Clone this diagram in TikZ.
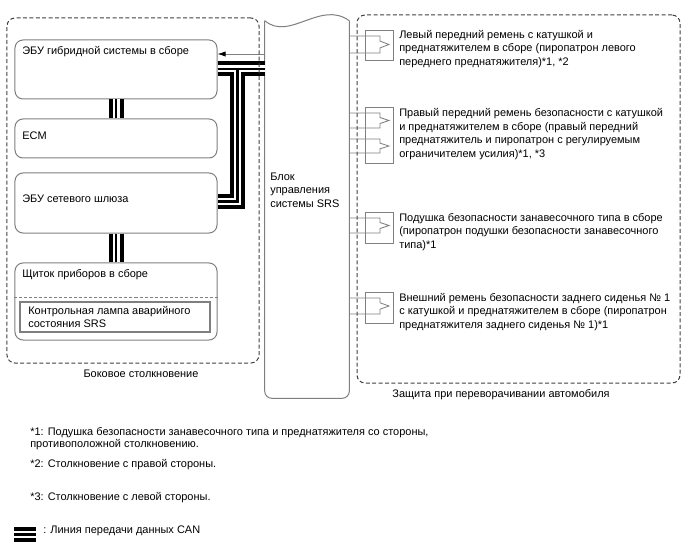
\documentclass[tikz,border=0pt]{standalone}
\usepackage{fontspec}
\setmainfont{Liberation Sans}
\usetikzlibrary{arrows.meta}
\definecolor{boxgray}{HTML}{7F7F7F}
\definecolor{dashgray}{HTML}{404040}
\tikzset{
  ecu/.style={draw=boxgray, line width=0.25mm, rounded corners=2mm, minimum width=50.5mm, inner sep=0},
  squib/.style={draw=boxgray, line width=0.2mm, minimum width=7mm, inner sep=0},
  group/.style={draw=dashgray, line width=0.25mm, dash pattern=on 1mm off 0.6mm, rounded corners=2mm, inner sep=0},
  wire/.style={draw=boxgray, line width=0.2mm},
  txt/.style={anchor=west, inner sep=0, align=left},
  canbus/.style={draw=black, line width=3.75mm, postaction={draw=white, line width=1.75mm}, postaction={draw=black, line width=0.6mm}},
}

\begin{document}
\begin{tikzpicture}[x=0.25mm, y=-0.25mm, font={\fontsize{7.8}{9.75}\selectfont}]
\useasboundingbox (0,0) rectangle (688,560);
% side collision ECUs
\node[ecu, minimum height=14.75mm] (hv) at (116,69.5) {};
\node[ecu, minimum height=9.75mm] (ecm) at (116,138.5) {};
\node[ecu, minimum height=15mm] (gw) at (116,203) {};
\node[ecu, minimum height=19.25mm] (meter) at (116,301.5) {};
\node[draw=boxgray, line width=0.3mm, minimum width=47.5mm, minimum height=7.5mm, inner sep=0] (lamp) at (115,317) {};
\draw[boxgray, line width=0.2mm, dash pattern=on 0.75mm off 0.5mm] (meter.west |- 0,297) -- (meter.east |- 0,297);
\node[txt] (hvlbl) at (22,52) {ЭБУ гибридной системы в сборе};
\node[txt] (ecmlbl) at (22,136) {ECM};
\node[txt] (gwlbl) at (22,199) {ЭБУ сетевого шлюза};
\node[txt] (meterlbl) at (22,275) {Щиток приборов в сборе};
\node[txt] (lamplbl) at (28,317) {Контрольная лампа аварийного\\состояния SRS};
% SRS block
\node[minimum width=21mm, minimum height=94.25mm, inner sep=0] (srs) at (307,209.5) {};
\draw[wire, line width=0.25mm] (srs.north west) .. controls +(25,21) and +(-29,-21) .. (srs.north east);
\draw[wire, line width=0.25mm, rounded corners=1.75mm] (srs.north east) -- (srs.south east) -- (srs.south west) -- (srs.north west);
\node[txt] (srslbl) at (270,190) {Блок\\управления\\системы SRS};
% CAN lines
\coordinate (tee) at (237.5,69);
\draw[canbus] (hv.east |- tee) -- (srs.west |- tee) (gw.east |- 0,201.5) -| (tee);
\draw[canbus] (hv.south) -- (ecm.north);
\draw[canbus] (gw.south) -- (meter.north);
\draw[wire, -{Latex[length=2mm, width=1.3mm, color=black]}] (srs.west |- 0,54) -- (hv.east |- 0,54);
% squibs
\node[squib, minimum height=7.5mm] (sqa) at (379,45) {};
\node[squib, minimum height=14mm] (sqb) at (379,135) {};
\node[squib, minimum height=7.75mm] (sqc) at (379,227.5) {};
\node[squib, minimum height=7.75mm] (sqd) at (379,307.5) {};
\foreach \w/\d in {36/17,113/15,139/14,218/15,298/16}
  \draw[wire] (srs.east |- 0,\w) -| (380,{\w+0.3*\d}) -- (389,{\w+0.5*\d}) -- (380,{\w+0.7*\d}) |- (srs.east |- 0,{\w+\d});
\node[txt] (sqalbl) at (399,49) {Левый передний ремень с катушкой и\\преднатяжителем в сборе (пиропатрон левого\\переднего преднатяжителя)*1, *2};
\node[txt] (sqblbl) at (399,134) {Правый передний ремень безопасности с катушкой\\и преднатяжителем в сборе (правый передний\\преднатяжитель и пиропатрон с регулируемым\\ограничителем усилия)*1, *3};
\node[txt] (sqclbl) at (399,232) {Подушка безопасности занавесочного типа в сборе\\(пиропатрон подушки безопасности занавесочного\\типа)*1};
\node[txt] (sqdlbl) at (399,312) {Внешний ремень безопасности заднего сиденья № 1\\с катушкой и преднатяжителем в сборе (пиропатрон\\преднатяжителя заднего сиденья № 1)*1};
% groups
\node[group, minimum width=63mm, minimum height=86.25mm] (side) at (133,190.5) {};
\node[group, minimum width=80.75mm, minimum height=92mm] (roll) at (518.5,199) {};
\node[inner sep=0] (sidelbl) at (141,374) {Боковое столкновение};
\node[inner sep=0] (rolllbl) at (501,395) {Защита при переворачивании автомобиля};
% notes
\node[txt] (fna) at (30,438.5) {*1: Подушка безопасности занавесочного типа и преднатяжителя со стороны,\\[-1.4pt]противоположной столкновению.};
\node[txt] (fnb) at (30,465) {*2: Столкновение с правой стороны.};
\node[txt] (fnc) at (30,498) {*3: Столкновение с левой стороны.};
\coordinate (cana) at (14,534.5);
\coordinate (canb) at (36,534.5);
\draw[canbus] (cana) -- (canb);
\node[txt] (canlbl) at (43,531) {: Линия передачи данных CAN};
\end{tikzpicture}
\end{document}
